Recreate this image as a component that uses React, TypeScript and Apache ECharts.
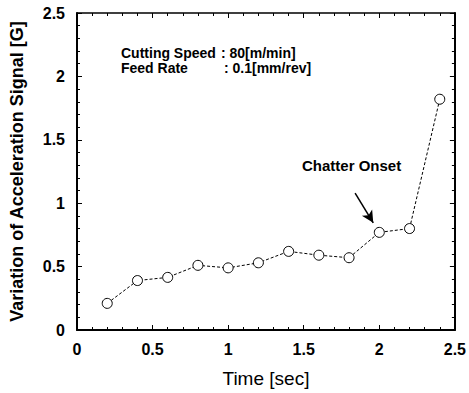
import React, { useEffect, useRef } from "react";
import * as echarts from "echarts";

const timeSec = [0.2, 0.4, 0.6, 0.8, 1.0, 1.2, 1.4, 1.6, 1.8, 2.0, 2.2, 2.4];
const accelVariation = [0.21, 0.39, 0.415, 0.51, 0.49, 0.53, 0.62, 0.59, 0.57, 0.77, 0.8, 1.82];
const arrowStart = [1.84, 1.08];
const arrowEnd = [1.96, 0.845];

const FONT = "'Liberation Sans', Arial, Helvetica, sans-serif";

export default function App() {
  const ref = useRef<HTMLDivElement>(null);
  useEffect(() => {
    const chart = echarts.init(ref.current!, null, { renderer: "svg" });
    const tickLabel = { color: "#000", fontFamily: FONT, fontSize: 16, fontWeight: "bold" as const };
    const axisCommon = {
      axisLine: { show: true, onZero: false, lineStyle: { color: "#000", width: 2 } },
      axisTick: { show: true, inside: true, length: 5, lineStyle: { color: "#000", width: 1 } },
      minorTick: { show: true, splitNumber: 5, length: 3, lineStyle: { color: "#000", width: 1 } },
      splitLine: { show: false },
      minorSplitLine: { show: false },
    };
    chart.setOption({
      animation: false,
      backgroundColor: "#fff",
      grid: { left: 77, top: 13, width: 380, height: 317 },
      xAxis: [
        {
          type: "value", min: 0, max: 2.5, interval: 0.5, position: "bottom",
          ...axisCommon,
          axisLabel: { ...tickLabel, margin: 11 },
          name: "Time [sec]", nameLocation: "middle", nameGap: 39,
          nameTextStyle: { color: "#000", fontFamily: FONT, fontSize: 19 },
        },
        {
          type: "value", min: 0, max: 2.5, interval: 0.5, position: "top",
          ...axisCommon,
          axisLine: { show: true, onZero: false, lineStyle: { color: "#000", width: 1.5 } },
          axisLabel: { show: false },
        },
      ],
      yAxis: [
        {
          type: "value", min: 0, max: 2.5, interval: 0.5, position: "left",
          ...axisCommon,
          axisLabel: {
            ...tickLabel, margin: 12,
            formatter: (v: number) => String(v),
          },
          name: "Variation of Acceleration Signal [G]", nameLocation: "middle", nameGap: 51,
          nameTextStyle: { color: "#000", fontFamily: FONT, fontSize: 18, fontWeight: "bold" },
        },
        {
          type: "value", min: 0, max: 2.5, interval: 0.5, position: "right",
          ...axisCommon,
          axisLine: { show: true, onZero: false, lineStyle: { color: "#000", width: 2 } },
          axisLabel: { show: false },
        },
      ],
      series: [
        {
          type: "line",
          data: timeSec.map((t, i) => [t, accelVariation[i]]),
          symbol: "circle",
          symbolSize: 10,
          itemStyle: { color: "#fff", borderColor: "#000", borderWidth: 1 },
          lineStyle: { color: "#000", width: 1, type: [3, 2] },
          markLine: {
            silent: true,
            symbol: ["none", "arrow"],
            symbolSize: [9, 12],
            label: { show: false },
            lineStyle: { color: "#000", width: 1.5, type: "solid" },
            data: [[{ coord: arrowStart }, { coord: arrowEnd }]],
          },
        },
      ],
      graphic: [
        { type: "text", left: 121, top: 46, style: { text: "Cutting Speed", font: `bold 14px ${FONT}`, fill: "#000" } },
        { type: "text", left: 121, top: 61, style: { text: "Feed Rate", font: `bold 14px ${FONT}`, fill: "#000" } },
        { type: "text", left: 221, top: 46, style: { text: ": 80[m/min]", font: `bold 14px ${FONT}`, fill: "#000" } },
        { type: "text", left: 224, top: 61, style: { text: ": 0.1[mm/rev]", font: `bold 14px ${FONT}`, fill: "#000" } },
        { type: "text", left: 302, top: 158, style: { text: "Chatter Onset", font: `bold 15px ${FONT}`, fill: "#000" } },
      ],
    });
    return () => chart.dispose();
  }, []);
  return <div ref={ref} style={{ position: "fixed", left: 0, top: 0, width: 469, height: 393 }} />;
}
